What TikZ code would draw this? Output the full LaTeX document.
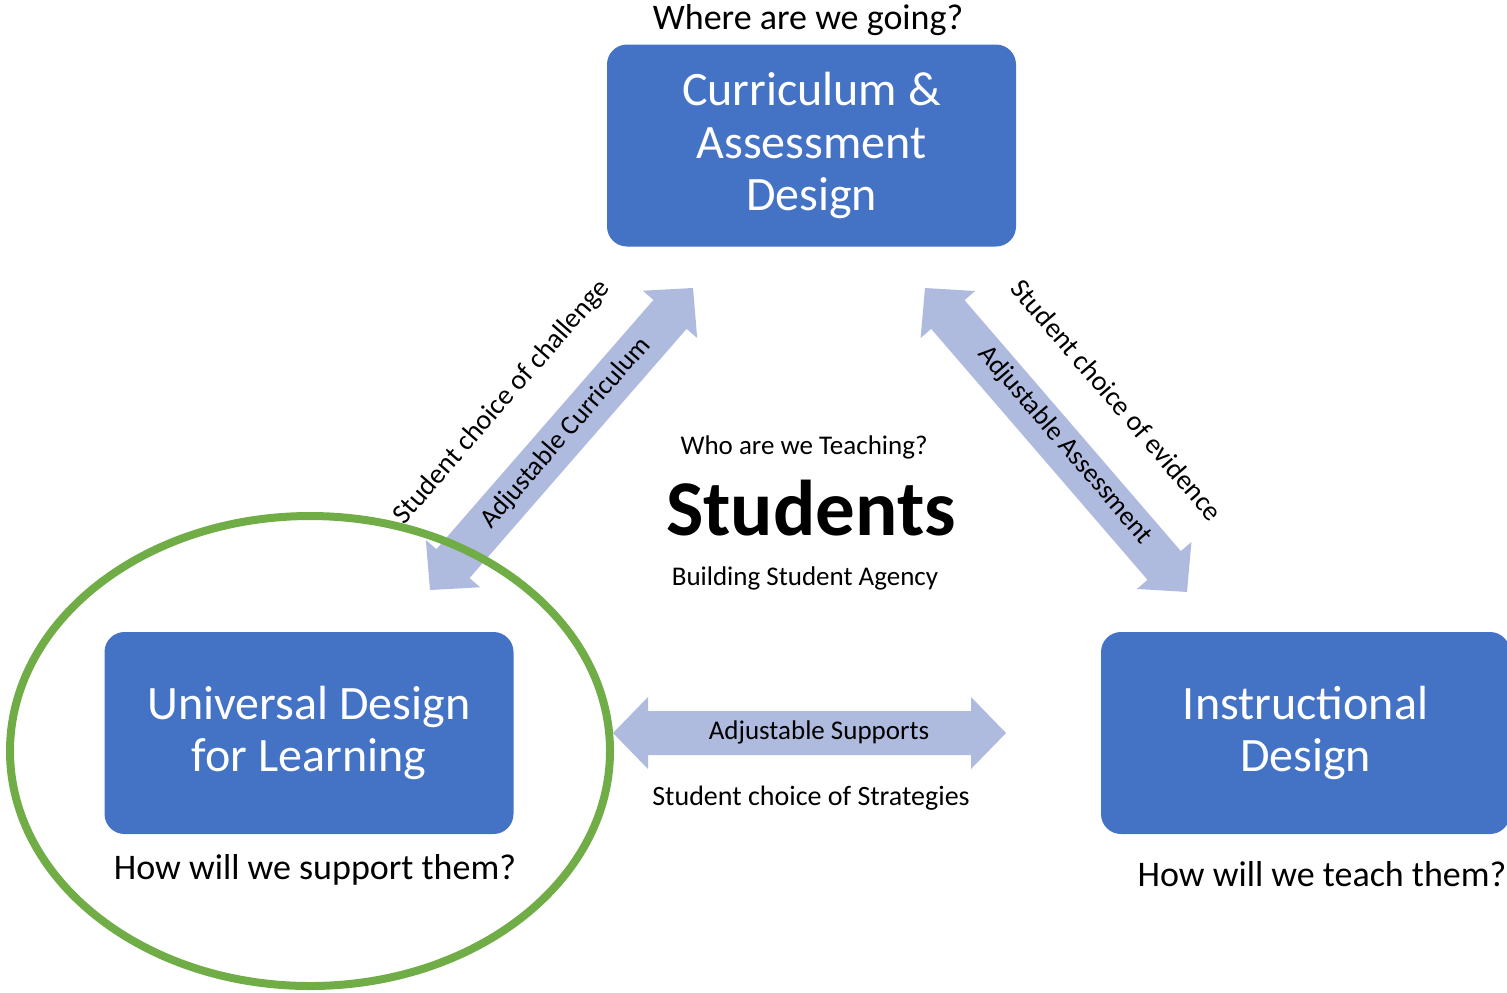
\documentclass[tikz,border=0pt]{standalone}
\usepackage{fontspec}
\setmainfont{Carlito}
\definecolor{boxblue}{HTML}{4472C4}
\definecolor{arrowblue}{HTML}{AFBADF}
\definecolor{ringgreen}{HTML}{70AD47}
\newcommand\DblArrowShape[1]{%
  \fill[arrowblue] (0,0) -- (35,-36) -- (35,-22) -- (#1-35,-22) -- (#1-35,-36) -- (#1,0)
    -- (#1-35,36) -- (#1-35,22) -- (35,22) -- (35,36) -- cycle;}
\begin{document}
\begin{tikzpicture}[x=0.5pt,y=-0.5pt,
  bluebox/.style={fill=boxblue, rounded corners=10pt, text=white, align=center,
    font=\fontsize{24}{26.3}\selectfont, minimum width=204.5pt, minimum height=101pt, inner sep=0pt},
  question/.style={font=\fontsize{18}{21}\selectfont, inner sep=0pt},
  small/.style={font=\fontsize{13.5}{16}\selectfont, inner sep=0pt},
  choice/.style={font=\fontsize{14}{17}\selectfont, inner sep=0pt}]
\useasboundingbox (0,0) rectangle (1507,992);

% boxes
\node[bluebox] (cad) at (811.5,145.5) {Curriculum \&\\Assessment\\Design};
\node[bluebox] (udl) at (309,733) {Universal Design\\for Learning};
\node[bluebox] (ins) at (1305.5,733) {Instructional\\Design};

% questions
\node[question] (qtop) at (808,20) {Where are we going?};
\node[question] (qudl) at (315,870) {How will we support them?};
\node[question] (qins) at (1322,874) {How will we teach them?};

% centre
\node[small] (who) at (804,447) {Who are we Teaching?};
\node[font=\bfseries\fontsize{39.5}{44}\selectfont, inner sep=0pt] (stu) at (811,508) {Students};
\node[small] (agency) at (805,578) {Building Student Agency};

% left diagonal arrow
\begin{scope}[shift={(430,590)}, rotate=48.95]
  \DblArrowShape{400.5}
\end{scope}
\node[small, rotate=48.95] (adjcur) at (566,433) {Adjustable Curriculum};
\node[choice, rotate=48.95] (chal) at (502,402) {Student choice of challenge};

% right diagonal arrow
\begin{scope}[shift={(925,288)}, rotate=-49.24]
  \DblArrowShape{401.3}
\end{scope}
\node[small, rotate=-49.24] (adjass) at (1065,445) {Adjustable Assessment};
\node[choice, rotate=-49.24] (evid) at (1117,400) {Student choice of evidence};

% horizontal arrow
\begin{scope}[shift={(613,733)}]
  \DblArrowShape{393}
\end{scope}
\node[small] (adjsup) at (819,732) {Adjustable Supports};
\node[choice] (strat) at (811,798) {Student choice of Strategies};

% green ring
\draw[ringgreen, line width=4pt] (310,751) ellipse [x radius=300, y radius=235];
\end{tikzpicture}
\end{document}
